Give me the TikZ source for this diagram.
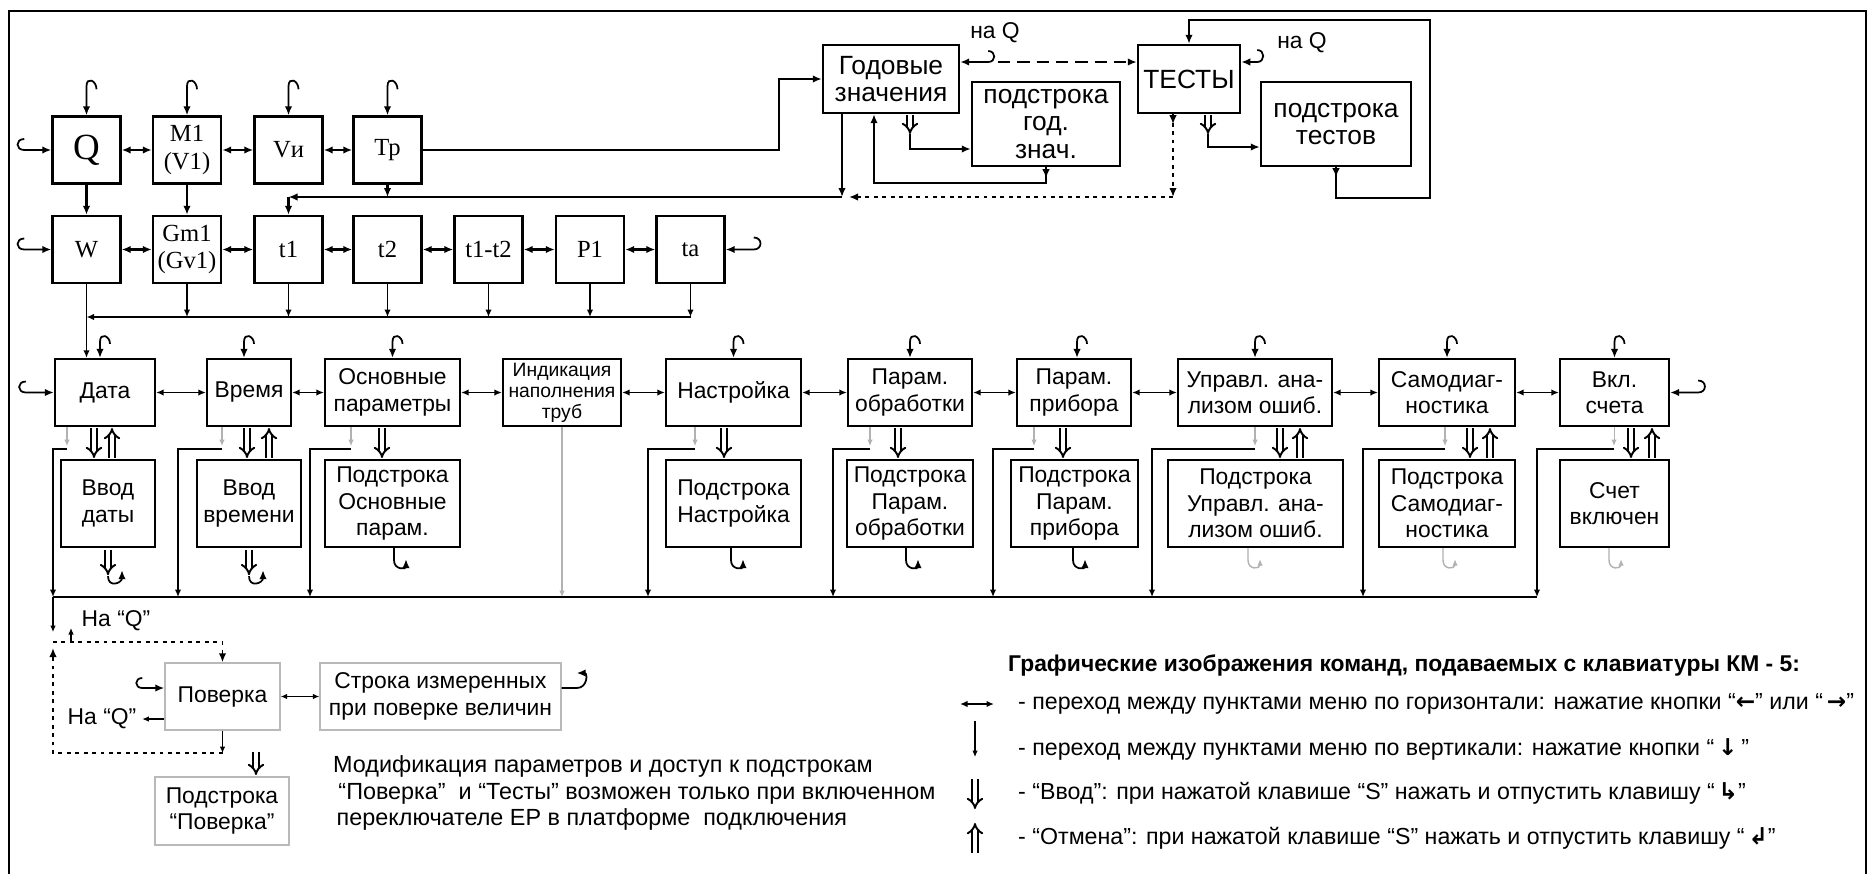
\documentclass[tikz,border=0pt]{standalone}
\usepackage{fontspec}
\setmainfont{Liberation Sans}
\newfontfamily\timesf{Liberation Serif}
\newfontfamily\arrf{DejaVu Sans}
\usetikzlibrary{arrows.meta}

\begin{document}
\begin{tikzpicture}[
  x=0.2mm, y=-0.2mm,
  >={Latex[length=1.8mm,width=1.5mm]},
  every node/.style={font=\fontsize{13}{15}\selectfont},
  tbox/.style={draw,line width=1.4pt,align=center,inner sep=0pt,
               minimum width=13.6mm,minimum height=13.4mm,
               font=\timesf\fontsize{14}{15.5}\selectfont},
  ubox/.style={draw,line width=1.4pt,align=center,inner sep=0pt,
               font=\fontsize{15}{15.5}\selectfont},
  mbox/.style={draw,line width=1.3pt,align=center,inner sep=0pt,
               minimum height=13.4mm},
  sbox/.style={draw,line width=1.3pt,align=center,inner sep=0pt,
               minimum height=17.4mm},
  gbox/.style={draw=gray!55,line width=0.8pt,align=center,inner sep=0pt},
  conn/.style={line width=1.3pt},
  conn2/.style={line width=0.9pt,>={Latex[length=1.5mm,width=1.3mm]}},
  thinln/.style={line width=0.6pt,>={Latex[length=1.3mm,width=1.1mm]}},
  greyln/.style={thinln,draw=gray!60},
  hk/.style={line width=1pt},
  enter/.style={double,double distance=2pt,line width=1.1pt,-{Implies}},
  dots/.style={line width=1.3pt,dash pattern=on 2.2pt off 2.6pt},
  dsh/.style={line width=1.2pt,dash pattern=on 7pt off 4pt},
  leg/.style={anchor=west,font=\fontsize{13.2}{15}\selectfont}
]
\fill[white] (0,0) rectangle (1872,874);
\useasboundingbox (0,0) rectangle (1872,874);
\draw[line width=1.4pt] (9,874) -- (9,11) -- (1866,11) -- (1866,874);

% ---- flow values (row 1) ----
\node[tbox,font=\timesf\fontsize{21}{22}\selectfont] (q) at (86.5,150) {Q};
\node[tbox] (m1) at (187,150)   {M1\\(V1)};
\node[tbox] (vi) at (288.5,150) {Vи};
\node[tbox] (tp) at (387.5,150) {Тр};

% ---- row 2 ----
\node[tbox] (w)   at (86.5,249.5)  {W};
\node[tbox] (gm)  at (187,249.5)   {Gm1\\(Gv1)};
\node[tbox] (t1)  at (288.5,249.5) {t1};
\node[tbox] (t2)  at (387.5,249.5) {t2};
\node[tbox] (t12) at (488.5,249.5) {t1-t2};
\node[tbox] (p1)  at (590,249.5)   {P1};
\node[tbox] (ta)  at (690.5,249.5) {ta};

% ---- annual values and tests ----
\node[ubox,minimum width=27.2mm,minimum height=13.6mm] (god)  at (891,79)   {Годовые\\значения};
\node[ubox,minimum width=29.6mm,minimum height=16.8mm] (podg) at (1046,124) {подстрока\\год.\\знач.};
\node[ubox,minimum width=20.4mm,minimum height=13.6mm] (tests) at (1189,79) {ТЕСТЫ};
\node[ubox,minimum width=30mm,minimum height=16.8mm]   (podt) at (1336,124) {подстрока\\тестов};
\node (naq1) at (995,33)  {на Q};
\node (naq2) at (1302,43) {на Q};

% ---- menu (row 3) ----
\node[mbox,minimum width=20mm]   (data)  at (105,392.5)  {Дата};
\node[mbox,minimum width=16.8mm] (vrem)  at (249,392.5)  {Время};
\node[mbox,minimum width=27mm]   (osn)   at (392.5,392.5) {Основные\\параметры};
\node[mbox,minimum width=23.6mm,font=\fontsize{11}{12}\selectfont] (ind) at (562,392.5) {Индикация\\наполнения\\труб};
\node[mbox,minimum width=27mm]   (nastr) at (733.5,392.5) {Настройка};
\node[mbox,minimum width=24.8mm] (obr)   at (910,392.5)  {Парам.\\обработки};
\node[mbox,minimum width=22.8mm] (prib)  at (1074,392.5) {Парам.\\прибора};
\node[mbox,minimum width=30.8mm] (upr)   at (1255,392.5) {Управл. ана-\\лизом ошиб.};
\node[mbox,minimum width=27.2mm] (samo)  at (1447,392.5) {Самодиаг-\\ностика};
\node[mbox,minimum width=21.8mm] (vkl)   at (1614.5,392.5) {Вкл.\\счета};

% ---- substrings ----
\node[sbox,minimum width=18.8mm] (vvd)    at (108,503.5)    {Ввод\\даты};
\node[sbox,minimum width=20.8mm] (vvv)    at (249,503.5)    {Ввод\\времени};
\node[sbox,minimum width=27mm]   (posn)   at (392.5,503.5)  {Подстрока\\Основные\\парам.};
\node[sbox,minimum width=27mm]   (pnastr) at (733.5,503.5)  {Подстрока\\Настройка};
\node[sbox,minimum width=25.2mm] (pobr)   at (910,503.5)    {Подстрока\\Парам.\\обработки};
\node[sbox,minimum width=25.4mm] (pprib)  at (1074.5,503.5) {Подстрока\\Парам.\\прибора};
\node[sbox,minimum width=35mm]   (pupr)   at (1255.5,503.5) {Подстрока\\Управл. ана-\\лизом ошиб.};
\node[sbox,minimum width=27.2mm] (psamo)  at (1447,503.5)   {Подстрока\\Самодиаг-\\ностика};
\node[sbox,minimum width=21.8mm] (schet)  at (1614.5,503.5) {Счет\\включен};

% ---- verification ----
\node[gbox,minimum width=23mm,minimum height=13.4mm]   (pov)  at (222.5,696.5) {Поверка};
\node[gbox,minimum width=48.2mm,minimum height=13.4mm] (str)  at (440.5,696.5) {Строка измеренных\\при поверке величин};
\node[gbox,minimum width=26.8mm,minimum height=13.6mm] (ppov) at (222,811) {Подстрока\\“Поверка”};
\node (naq3) at (116,621) {На “Q”};
\node (naq4) at (102,719) {На “Q”};
\node[anchor=west,align=left,font=\fontsize{13.3}{15.2}\selectfont] (note) at (327,793)
  {Модификация параметров и доступ к подстрокам\\\hspace{3pt}“Поверка”\ \ и “Тесты” возможен только при включенном\\\hspace{2pt}переключателе ЕР в платформе\ \ подключения};

% ---- legend ----
\node[leg,font=\bfseries\fontsize{13}{15}\selectfont] (legt) at (1002,665) {Графические изображения команд, подаваемых с клавиатуры КМ - 5:};
\node[leg] (leg1) at (1012,704) {- переход между пунктами меню по горизонтали: нажатие кнопки “{\arrf\bfseries ←}” или “\,{\arrf\bfseries →}”};
\node[leg] (leg2) at (1012,749) {- переход между пунктами меню по вертикали: нажатие кнопки “\,{\arrf\bfseries ↓}\,”};
\node[leg] (leg3) at (1012,793) {- “Ввод”: при нажатой клавише “S” нажать и отпустить клавишу “\,{\arrf\bfseries ↳}”};
\node[leg] (leg4) at (1012,838) {- “Отмена”: при нажатой клавише “S” нажать и отпустить клавишу “\,{\arrf\bfseries ↲}”};

% row 1 and 2 connectors
\foreach \n in {q,w}
  \draw[hk,<-] (\n.west) -- ++(-27,0) .. controls +(-9,0) and +(-9,0) .. ++(0,-11);
\foreach \n in {q,m1,vi,tp}
  \draw[hk,<-] (\n.north) -- ++(0,-29) .. controls +(0,-10) and +(0,-9) .. ++(10,3);
\foreach \a/\b in {q/m1,m1/vi,vi/tp,w/gm,gm/t1,t1/t2,t2/t12,t12/p1,p1/ta}
  \draw[conn,<->] (\a) -- (\b);
\draw[conn,->] (q) -- (w);
\draw[conn,->] (m1) -- (gm);
\draw[hk,<-] (ta.east) -- ++(28,0) .. controls +(9,0) and +(9,0) .. ++(0,-12);

% Tp to annual values, return line
\coordinate (tpb) at (779,79);
\draw[conn,->] (tp.east) -| (tpb) -- (god.west);
\coordinate (retL) at (288.5,197);
\coordinate (retR) at (842,197);
\draw[conn,->] (god.south -| retR) -- (retR);
\draw[conn,->] (retR) -- (retL);
\draw[conn,->] (retL) -- (t1);
\draw[conn,->] (tp) -- (tp |- retL);

% annual values substring
\draw[enter] (910,115) -- (910,134);
\draw[conn,->] (910,134) |- ([yshift=-5mm]podg.west);
\coordinate (gx) at (874,183);
\draw[conn,->] (podg.south) -- ++(0,11);
\draw[conn,->] (podg.south) |- (gx) -- (god.south -| gx);

% to tests
\draw[hk,<-] ([yshift=3.4mm]god.east) -- ++(28,0) .. controls +(8,0) and +(8,0) .. ++(0,-11);
\coordinate (dsA) at (998,62);
\draw[dsh,->] (dsA) -- (tests.west |- dsA);
\draw[hk,<-] ([yshift=3.4mm]tests.east) -- ++(16,0) .. controls +(8,0) and +(8,0) .. ++(0,-12);
\coordinate (dotc) at (1173,197);
\coordinate (dotl) at (849,197);
\draw[conn,->] (tests.south -| dotc) -- ++(0,10);
\draw[dots,->] (tests.south -| dotc) -- (dotc);
\draw[dots,->] (dotc) -- (dotl);
\draw[enter] (1208,115) -- (1208,134);
\draw[conn,->] (1208,134) |- ([yshift=-4.6mm]podt.west);
\coordinate (lpA) at (1430,198);
\coordinate (lpB) at (1430,20);
\draw[conn,->] (podt.south) -- ++(0,10);
\draw[conn,->] (podt.south) |- (lpA) -- (lpB) -| (tests.north);

% bus under row 2
\coordinate (bus1) at (86.5,317);
\foreach \n in {gm,t1,t2,t12,p1,ta}
  \draw[conn2,->] (\n) -- (\n |- bus1);
\draw[conn2,->] (ta |- bus1) -- (bus1);
\draw[conn2,->] (w) -- (w |- data.north);

% row 3 connectors
\draw[hk,<-] (data.west) -- ++(-28,0) .. controls +(-9,0) and +(-9,0) .. ++(0,-11);
\draw[hk,<-] (vkl.east) -- ++(28,0) .. controls +(9,0) and +(9,0) .. ++(0,-12);
\foreach \n/\d in {data/-1,vrem/-1,osn/0,nastr/0,obr/0,prib/0.6,upr/0,samo/0,vkl/0}
  \draw[hk,<-] ([xshift=\d mm]\n.north) -- ++(0,-16) .. controls +(0,-10) and +(0,-8) .. ++(10,2);
\foreach \a/\b in {data/vrem,vrem/osn,osn/ind,ind/nastr,nastr/obr,obr/prib,prib/upr,upr/samo,samo/vkl}
  \draw[conn2,<->] (\a) -- (\b);
\foreach \x in {94,247,382,724,898,1063,1280,1470,1631}
  \draw[enter] (\x,428) -- (\x,458);
\foreach \x in {112,269,1300,1490,1652}
  \draw[enter] (\x,458) -- (\x,428);

% down to the lower bus
\coordinate (bus2) at (53,597);
\coordinate (bus2r) at (1537,597);
\draw[conn2] (bus2) -- (bus2r);
\foreach \n/\a/\b in {data/67/53,vrem/222/178,osn/351/310,nastr/695/648,obr/870/833,prib/1034/993,upr/1255/1152,samo/1445/1363,vkl/1614/1537} {
  \draw[greyln,->] (\n.south -| \a,0) -- (\a,446);
  \draw[conn2,->] (\a,449) -| (\b,0 |- bus2);
}
\draw[greyln,->] (ind) -- (ind |- bus2);

% hooks under substrings
\foreach \n/\d in {posn/0.3,pnastr/-0.5,pobr/-0.8,pprib/-0.3}
  \draw[hk,->] ([xshift=\d mm]\n.south) -- ++(0,12) .. controls +(0,10) and +(0,10) .. ++(12,-1);
\foreach \n/\d in {pupr/-1.5,psamo/-0.8,schet/-1.1}
  \draw[greyln,line width=0.8pt,->] ([xshift=\d mm]\n.south) -- ++(0,12) .. controls +(0,10) and +(0,10) .. ++(12,-1);
\foreach \n in {vvd,vvv} {
  \draw[enter] ([yshift=-0.4mm]\n.south) -- ([yshift=-5.4mm]\n.south);
  \draw[hk,->] ([yshift=-5.6mm]\n.south) .. controls +(0,12) and +(0,13) .. ++(14,-6);
}

% verification loop
\coordinate (jn) at (53,642);
\coordinate (dotb) at (222.5,753);
\draw[thinln,->] (bus2) -- (53,632);
\draw[thinln,->] (71,641) -- (71,628);
\draw[dots,line width=1pt,->] (jn) -| (pov.north);
\draw[thinln,->] (pov) -- (dotb);
\draw[dots,line width=1pt,->] (dotb) -| (53,648);
\draw[hk,<-] ([yshift=1.7mm]pov.west) -- ++(-22,0) .. controls +(-8,0) and +(-8,0) .. ++(0,-10);
\draw[thinln,->] ([yshift=-4.5mm]pov.west) -- ++(-22,0);
\draw[thinln,<->] (pov) -- (str);
\draw[hk,->] ([yshift=1.7mm]str.east) -- ++(15,0) .. controls +(11,0) and +(11,0) .. ++(0,-15);
\draw[enter] (256,752) -- (256,775);

% legend symbols
\draw[conn2,<->] (960,704) -- (994,704);
\draw[thinln,->] (975,721) -- (975,757);
\draw[enter] (975,779) -- (975,809);
\draw[enter] (975,853) -- (975,823);

\end{tikzpicture}
\end{document}
